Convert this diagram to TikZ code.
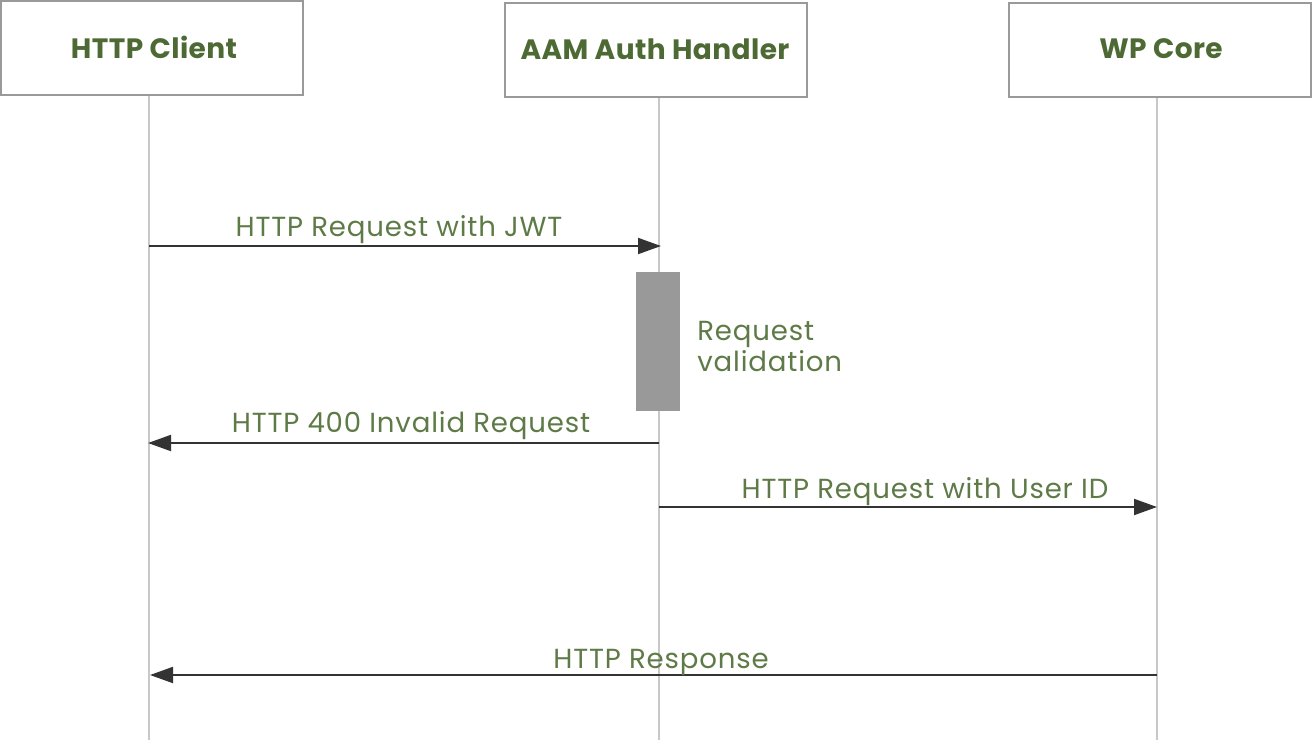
\documentclass[tikz,border=0pt]{standalone}
\usepackage{fontspec}
\setmainfont{Poppins}
\newfontfamily\lblfont[LetterSpace=3]{Poppins}
\newfontfamily\hdrfont[LetterSpace=1.5]{Poppins}
\usetikzlibrary{arrows.meta}
\definecolor{hdrgreen}{HTML}{4E6A34}
\definecolor{lblgreen}{HTML}{5E7A46}
\definecolor{boxgray}{HTML}{9A9A9A}
\definecolor{linegray}{HTML}{C8C8C8}
\definecolor{arrowdark}{HTML}{333333}
\definecolor{actgray}{HTML}{999999}
\tikzset{
  actor/.style={draw=boxgray, line width=1pt, fill=white, minimum width=151pt, minimum height=47pt, inner sep=0pt},
  hdr/.style={font=\hdrfont\bfseries\fontsize{14}{16}\selectfont, text=hdrgreen, inner sep=0pt},
  lifeline/.style={draw=linegray, line width=0.8pt},
  msg/.style={draw=arrowdark, line width=1pt, -{Triangle[length=11.5pt,width=8pt]}},
  lbl/.style={font=\lblfont\fontsize{13.8}{15.5}\selectfont, text=lblgreen, inner sep=0pt},
  activation/.style={fill=actgray, draw=none}
}
\begin{document}
\begin{tikzpicture}[x=0.5pt,y=-0.5pt]
\useasboundingbox (0,0) rectangle (1312,740);
% actors
\node[actor] (c) at (152,48) {};
\node[actor] (h) at (656,50) {};
\node[actor] (w) at (1160,50) {};
\node[hdr] (ct) at (154,47) {HTTP Client};
\node[hdr] (ht) at (655,49) {AAM Auth Handler};
\node[hdr] (wt) at (1161,49) {WP Core};
% lifelines
\coordinate (cT) at (149,96); \coordinate (cB) at (149,740);
\coordinate (hT) at (659,98); \coordinate (hB) at (659,740);
\coordinate (wT) at (1157,98); \coordinate (wB) at (1157,740);
\draw[lifeline] (cT) -- (cB);
\draw[lifeline] (hT) -- (hB);
\draw[lifeline] (wT) -- (wB);
% activation
\path[activation] (636,272) rectangle (680,411);
% message points
\coordinate (m1a) at (149,246); \coordinate (m1b) at (661,246);
\coordinate (m2a) at (659,443); \coordinate (m2b) at (148,443);
\coordinate (m3a) at (659,507); \coordinate (m3b) at (1157,507);
\coordinate (m4a) at (1157,675); \coordinate (m4b) at (150,675);
\draw[msg] (m1a) -- (m1b);
\draw[msg] (m2a) -- (m2b);
\draw[msg] (m3a) -- (m3b);
\draw[msg] (m4a) -- (m4b);
% labels
\node[lbl] (l1) at (399,230) {HTTP Request with JWT};
\node[lbl, anchor=west, align=left] (l2) at (697,346) {Request\\validation};
\node[lbl] (l3) at (411,426) {HTTP 400 Invalid Request};
\node[lbl] (l4) at (925,492) {HTTP Request with User ID};
\node[lbl] (l5) at (661,662) {HTTP Response};
\end{tikzpicture}
\end{document}
